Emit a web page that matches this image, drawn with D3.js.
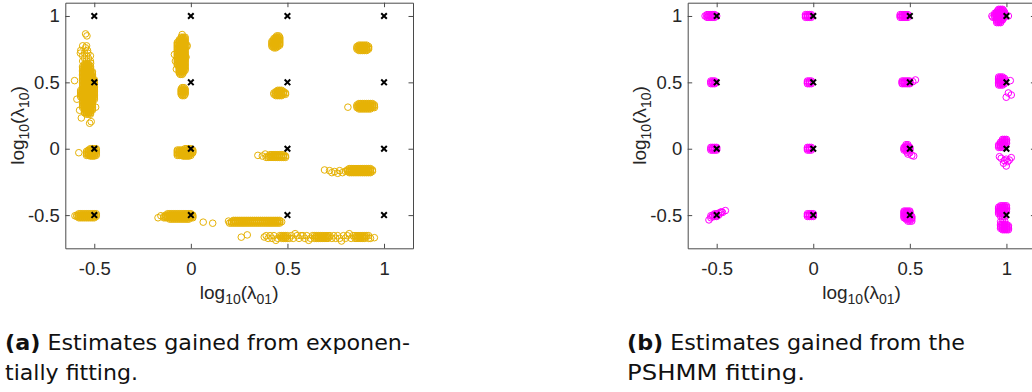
<!DOCTYPE html>
<html>
<head>
<meta charset="utf-8">
<script src="https://cdn.jsdelivr.net/npm/d3@7"></script>
<style>
  body { margin: 0; background: #fff; }
  svg { display: block; }
</style>
</head>
<body>
<svg id="chart" width="1032" height="392"></svg>
<script>
// axis ticks / true parameter grid
const xTicks = [-0.5, 0, 0.5, 1];
const yTicks = [-0.5, 0, 0.5, 1];
const xTickLabels = ['-0.5', '0', '0.5', '1'];
const yTickLabels = ['-0.5', '0', '0.5', '1'];
const trueLam01 = [-0.5, 0, 0.5, 1];
const trueLam10 = [-0.5, 0, 0.5, 1];

// estimates, (a) exponential fitting.
// each row: [log10(lam10) value(s), [log10(lam01) values]]
const expA1 = [
  [0.865, [-0.545]], [0.85, [-0.538]], [0.775, [-0.56, -0.54]], [0.76, [-0.545]],
  [0.74, [-0.57, -0.535]], [0.72, [-0.572, -0.55, -0.533]], [0.70, [-0.56, -0.54, -0.52]],
  [0.68, [-0.55, -0.53]], [0.66, [-0.56, -0.54, -0.52]], [0.644, [-0.519]],
  [[0.64, 0.63], [-0.55, -0.54, -0.53]],
  [[0.62, 0.61], [-0.56, -0.55, -0.54, -0.53, -0.52]],
  [[0.60, 0.59], [-0.56, -0.55, -0.54, -0.53, -0.52]],
  [[0.58, 0.57], [-0.56, -0.55, -0.54, -0.53, -0.52, -0.51]],
  [[0.56, 0.55], [-0.56, -0.55, -0.54, -0.53, -0.52, -0.51]],
  [[0.54, 0.53], [-0.56, -0.55, -0.54, -0.53, -0.52, -0.51]],
  [[0.52, 0.51], [-0.56, -0.55, -0.54, -0.53, -0.52, -0.51, -0.50]],
  [0.513, [-0.602]],
  [[0.50, 0.49], [-0.56, -0.55, -0.54, -0.53, -0.52, -0.51, -0.50]],
  [[0.48, 0.47], [-0.56, -0.55, -0.54, -0.53, -0.52, -0.51, -0.50]],
  [[0.46, 0.45], [-0.56, -0.55, -0.54, -0.53, -0.52, -0.51, -0.50]],
  [[0.44, 0.43], [-0.57, -0.56, -0.55, -0.54, -0.53, -0.52, -0.51, -0.50]],
  [[0.42, 0.41], [-0.57, -0.56, -0.55, -0.54, -0.53, -0.52, -0.51, -0.50]],
  [[0.40, 0.39], [-0.57, -0.56, -0.55, -0.54, -0.53, -0.52, -0.51, -0.50]],
  [[0.38, 0.37], [-0.56, -0.55, -0.54, -0.53, -0.52, -0.51, -0.50]],
  [0.373, [-0.59]],
  [[0.36, 0.35], [-0.56, -0.55, -0.54, -0.53, -0.52, -0.51]],
  [[0.34, 0.33], [-0.56, -0.55, -0.54, -0.53, -0.52, -0.51]],
  [[0.32, 0.31], [-0.56, -0.55, -0.54, -0.53, -0.52, -0.51]],
  [0.313, [-0.493]],
  [[0.30, 0.29], [-0.55, -0.54, -0.53, -0.52, -0.51]],
  [0.29, [-0.576]],
  [[0.28, 0.27], [-0.55, -0.54, -0.53, -0.52]],
  [0.26, [-0.54, -0.53, -0.52]],
  [0.232, [-0.567]], [0.204, [-0.516]], [0.192, [-0.524]]
];
const expA2 = [
  [0.0, [-0.52, -0.51, -0.50, -0.49]],
  [-0.01, [-0.53, -0.52, -0.51, -0.50, -0.49]],
  [[-0.02, -0.03], [-0.54, -0.53, -0.52, -0.51, -0.50, -0.49]],
  [-0.03, [-0.58]],
  [[-0.04, -0.05], [-0.54, -0.53, -0.52, -0.51, -0.50, -0.49]],
  [-0.055, [-0.52, -0.51, -0.50]]
];
const expA3 = [
  [-0.49, [-0.58, -0.57, -0.56, -0.55, -0.54, -0.53, -0.52, -0.51, -0.50, -0.49]],
  [[-0.50, -0.51], [-0.59, -0.58, -0.57, -0.56, -0.55, -0.54, -0.53, -0.52, -0.51, -0.50, -0.49]],
  [-0.505, [-0.60]],
  [-0.52, [-0.58, -0.57, -0.56, -0.55, -0.54, -0.53, -0.52, -0.51, -0.50]]
];
const expB1 = [
  [0.86, [-0.045]],
  [[0.84, 0.83], [-0.05, -0.04, -0.03]],
  [[0.82, 0.81], [-0.06, -0.05, -0.04, -0.03]],
  [[0.80, 0.79], [-0.07, -0.06, -0.05, -0.04, -0.03]],
  [[0.78, 0.77], [-0.07, -0.06, -0.05, -0.04, -0.03, -0.02]],
  [[0.76, 0.75], [-0.07, -0.06, -0.05, -0.04, -0.03]],
  [[0.74, 0.73], [-0.07, -0.06, -0.05, -0.04, -0.03]],
  [[0.72, 0.71], [-0.07, -0.06, -0.05, -0.04, -0.03]],
  [0.71, [-0.085]],
  [[0.70, 0.69], [-0.07, -0.06, -0.05, -0.04, -0.03]],
  [0.69, [-0.025]],
  [[0.68, 0.67], [-0.07, -0.06, -0.05, -0.04, -0.03]],
  [[0.66, 0.65], [-0.07, -0.06, -0.05, -0.04, -0.03]],
  [0.66, [-0.08]],
  [[0.64, 0.63], [-0.07, -0.06, -0.05, -0.04, -0.03]],
  [[0.62, 0.61], [-0.06, -0.05, -0.04, -0.03]],
  [[0.60, 0.59], [-0.06, -0.05, -0.04, -0.03]],
  [0.60, [-0.075]],
  [[0.58, 0.57], [-0.06, -0.05, -0.04]],
  [0.56, [-0.055, -0.045]]
];
const expB2 = [
  [0.46, [-0.045, -0.035]],
  [[0.45, 0.44, 0.43, 0.42, 0.41], [-0.05, -0.04, -0.03]],
  [0.40, [-0.045, -0.035]]
];
const expB3 = [
  [0.0, [-0.03, -0.02, -0.01, 0.0]],
  [[-0.01, -0.02, -0.03], [-0.07, -0.06, -0.05, -0.04, -0.03, -0.02, -0.01, 0.0, 0.01]],
  [[-0.04, -0.05], [-0.07, -0.06, -0.05, -0.04, -0.03, -0.02, -0.01, 0.0]],
  [-0.055, [-0.04, -0.03, -0.02, -0.01]]
];
const expB4 = [
  [-0.49, [-0.12, -0.11, -0.10, -0.09, -0.08, -0.07, -0.06, -0.05, -0.04, -0.03, -0.02, -0.01, 0.0]],
  [-0.50, [-0.13, -0.12, -0.11, -0.10, -0.09, -0.08, -0.07, -0.06, -0.05, -0.04, -0.03, -0.02, -0.01, 0.0, 0.01]],
  [-0.505, [-0.155]],
  [[-0.51, -0.52], [-0.14, -0.13, -0.12, -0.11, -0.10, -0.09, -0.08, -0.07, -0.06, -0.05, -0.04, -0.03, -0.02, -0.01, 0.0, 0.01]],
  [-0.52, [-0.17]],
  [-0.53, [-0.11, -0.10, -0.09, -0.08, -0.07, -0.06, -0.05, -0.04, -0.03, -0.02, -0.01]],
  [-0.553, [0.064]], [-0.561, [0.113]]
];
const expC1 = [
  [0.85, [0.445, 0.455]],
  [0.84, [0.44, 0.45, 0.46]],
  [[0.83, 0.82], [0.43, 0.44, 0.45, 0.46]],
  [[0.81, 0.80], [0.42, 0.43, 0.44, 0.45, 0.46]],
  [[0.79, 0.78], [0.42, 0.43, 0.44, 0.45, 0.46]],
  [0.77, [0.42, 0.43, 0.44, 0.45]],
  [0.76, [0.43, 0.44]]
];
const expC2 = [
  [0.44, [0.45, 0.46, 0.47]],
  [0.43, [0.44, 0.45, 0.46, 0.47, 0.48]],
  [[0.42, 0.41], [0.43, 0.44, 0.45, 0.46, 0.47, 0.48, 0.49]],
  [0.40, [0.44, 0.45, 0.46, 0.47]]
];
const expC3 = [
  [-0.04, [0.385]],
  [-0.045, [0.41, 0.42, 0.43, 0.44, 0.45, 0.46, 0.47, 0.48]],
  [-0.055, [0.40, 0.41, 0.42, 0.43, 0.44, 0.45, 0.46, 0.47, 0.48, 0.49]],
  [-0.05, [0.347]], [-0.055, [0.37]],
  [-0.065, [0.39, 0.40, 0.41, 0.42, 0.43, 0.44, 0.45, 0.46, 0.47, 0.48, 0.49]]
];
const expC4 = [
  [-0.54, [0.22, 0.23, 0.24, 0.25, 0.26, 0.27, 0.28, 0.29, 0.30, 0.31, 0.32, 0.33, 0.34,
           0.35, 0.36, 0.37, 0.38, 0.39, 0.40, 0.41, 0.42, 0.43, 0.44, 0.45, 0.46]],
  [-0.55, [0.21, 0.22, 0.23, 0.24, 0.25, 0.26, 0.27, 0.28, 0.29, 0.30, 0.31, 0.32, 0.33, 0.34,
           0.35, 0.36, 0.37, 0.38, 0.39, 0.40, 0.41, 0.42, 0.43, 0.44, 0.45, 0.46, 0.47]],
  [-0.545, [0.195]],
  [-0.56, [0.20, 0.21, 0.22, 0.23, 0.24, 0.25, 0.26, 0.27, 0.28, 0.29, 0.30, 0.31, 0.32, 0.33, 0.34,
           0.35, 0.36, 0.37, 0.38, 0.39, 0.40, 0.41, 0.42, 0.43, 0.44, 0.45, 0.46]],
  [-0.649, [0.292]], [-0.666, [0.261]]
];
const expD1 = [
  [0.78, [0.87, 0.88, 0.89, 0.90, 0.91]],
  [[0.77, 0.76, 0.75], [0.86, 0.87, 0.88, 0.89, 0.90, 0.91, 0.92]],
  [0.74, [0.87, 0.88, 0.89, 0.90, 0.91]]
];
const expD2 = [
  [0.34, [0.87, 0.88, 0.89, 0.90, 0.91, 0.92, 0.93, 0.94]],
  [[0.33, 0.32, 0.31], [0.86, 0.87, 0.88, 0.89, 0.90, 0.91, 0.92, 0.93, 0.94, 0.95]],
  [0.313, [0.813]],
  [0.30, [0.87, 0.88, 0.89, 0.90, 0.91, 0.92, 0.93]]
];
const expD3 = [
  [-0.15, [0.82, 0.83, 0.84, 0.85, 0.86, 0.87, 0.88, 0.89, 0.90, 0.91, 0.92, 0.93]],
  [-0.16, [0.81, 0.82, 0.83, 0.84, 0.85, 0.86, 0.87, 0.88, 0.89, 0.90, 0.91, 0.92, 0.93, 0.94]],
  [-0.16, [0.692]], [-0.165, [0.718, 0.77]],
  [-0.17, [0.80, 0.81, 0.82, 0.83, 0.84, 0.85, 0.86, 0.87, 0.88, 0.89, 0.90, 0.91, 0.92, 0.93, 0.94]],
  [-0.172, [0.744]],
  [-0.18, [0.73, 0.785, 0.82, 0.83, 0.84, 0.85, 0.86, 0.87, 0.88, 0.89, 0.90, 0.91, 0.92, 0.93]],
  [-0.185, [0.76]]
];
const expD4 = [
  [-0.64, [0.54, 0.82]],
  [-0.655, [0.39, 0.41, 0.43, 0.46, 0.47, 0.48, 0.49, 0.50, 0.52, 0.55, 0.57, 0.58, 0.60, 0.63, 0.64,
            0.65, 0.66, 0.67, 0.68, 0.69, 0.70, 0.71, 0.72, 0.74, 0.76, 0.79, 0.81, 0.84, 0.85, 0.86,
            0.87, 0.88, 0.89, 0.90, 0.91, 0.92]],
  [-0.665, [0.38, 0.465, 0.475, 0.485, 0.495, 0.645, 0.655, 0.665, 0.675, 0.685, 0.695, 0.705, 0.715,
            0.855, 0.865, 0.875, 0.885, 0.895, 0.905]],
  [-0.67, [0.95]],
  [-0.675, [0.40, 0.42, 0.45, 0.47, 0.48, 0.49, 0.50, 0.51, 0.53, 0.56, 0.59, 0.62, 0.64, 0.65, 0.66,
            0.67, 0.68, 0.69, 0.70, 0.71, 0.73, 0.75, 0.77, 0.80, 0.83, 0.85, 0.86, 0.87, 0.88, 0.89,
            0.90, 0.92, 0.93]],
  [-0.69, [0.44, 0.61]], [-0.695, [0.78]]
];

// estimates, (b) PSHMM fitting
const psA = [[[1.01, 1.0, 0.99], [-0.55, -0.54, -0.53, -0.52, -0.51]], [1.0, [-0.56, -0.50]]];
const psB = [[[1.01, 1.0, 0.99], [-0.04, -0.03, -0.02, -0.01]]];
const psC = [[[1.01, 1.0, 0.99], [0.45, 0.46, 0.47, 0.48, 0.49]]];
const psD = [
  [1.05, [0.96, 0.97, 0.98]], [1.04, [0.955, 0.965, 0.975, 0.985]], [1.03, [0.95, 0.96, 0.97, 0.98, 0.99]],
  [[1.02, 1.01, 1.0], [0.94, 0.95, 0.96, 0.97, 0.98, 0.99]], [1.0, [0.925, 1.01]],
  [0.99, [0.93, 0.94, 0.95, 0.96, 0.97, 0.98, 0.99]], [[0.98, 0.97], [0.95, 0.96, 0.97, 0.98]],
  [[0.96, 0.95], [0.95, 0.96, 0.97]]
];
const psE = [[[0.51, 0.50, 0.49], [-0.53, -0.52, -0.51]], [0.50, [-0.505]]];
const psF = [[[0.51, 0.50, 0.49], [-0.03, -0.02, -0.01]]];
const psG = [[0.518, [0.529]], [[0.51, 0.50, 0.49], [0.46, 0.47, 0.48, 0.49, 0.50]], [0.505, [0.515]]];
const psH = [
  [0.54, [0.96, 0.97, 0.98]], [[0.53, 0.52, 0.51, 0.50, 0.49], [0.96, 0.97, 0.98, 0.99]], [0.513, [1.02]],
  [0.48, [0.96, 0.97, 0.98]],
  [0.42, [1.01]], [0.405, [1.025]], [0.388, [0.999]]
];
const psI = [[[0.01, 0.0, -0.01], [-0.53, -0.52, -0.51, -0.50]]];
const psJ = [[[0.01, 0.0, -0.01], [-0.03, -0.02, -0.01]]];
const psK = [
  [[0.03, 0.02], [0.48, 0.49]], [[0.01, 0.0, -0.01], [0.47, 0.48, 0.49, 0.50]],
  [-0.025, [0.485]], [-0.03, [0.50]], [-0.04, [0.49]], [-0.05, [0.51]], [-0.055, [0.52]]
];
const psL = [
  [[0.07, 0.06], [0.98, 0.99, 1.0]], [[0.05, 0.04], [0.97, 0.98, 0.99, 1.0]], [[0.03, 0.02], [0.96, 0.97, 0.98, 0.99]],
  [0.01, [0.96, 0.97, 0.98]],
  [-0.06, [0.964]], [-0.067, [1.025]], [-0.072, [0.973]], [-0.079, [0.999]], [-0.085, [1.015]],
  [-0.09, [0.99]], [-0.097, [1.007]], [-0.109, [0.985]], [-0.13, [0.999]]
];
const psM = [
  [-0.466, [-0.455]], [-0.475, [-0.475]], [-0.48, [-0.48, -0.47]], [-0.485, [-0.49]],
  [-0.49, [-0.51, -0.50]], [-0.50, [-0.52, -0.51, -0.50, -0.49]], [-0.505, [-0.53]],
  [-0.51, [-0.52, -0.51, -0.50]], [-0.52, [-0.53]], [-0.536, [-0.54]]
];
const psN = [[[-0.49, -0.50, -0.51], [-0.03, -0.02, -0.01, 0.0]]];
const psO = [
  [[-0.47, -0.48, -0.49, -0.50], [0.47, 0.48, 0.49, 0.50]],
  [[-0.51, -0.52], [0.47, 0.48, 0.49, 0.50, 0.51]], [-0.53, [0.48, 0.49, 0.50, 0.51]],
  [-0.545, [0.49, 0.50, 0.51]]
];
const psP = [
  [-0.43, [0.97, 0.98, 0.99, 1.0]], [[-0.44, -0.45, -0.46, -0.47], [0.96, 0.97, 0.98, 0.99, 1.0]],
  [[-0.48, -0.49], [0.96, 0.97, 0.98, 0.99]],
  [-0.51, [0.97, 0.98, 0.99]], [-0.53, [0.98]], [-0.54, [0.99]], [-0.55, [0.97]],
  [-0.57, [0.97, 0.98, 0.99, 1.0]], [[-0.58, -0.59, -0.60], [0.97, 0.98, 0.99, 1.0, 1.01]],
  [-0.61, [0.98, 0.99, 1.0, 1.01]]
];

const expClusters = [expA1, expA2, expA3, expB1, expB2, expB3, expB4, expC1, expC2, expC3, expC4, expD1, expD2, expD3, expD4];
const psClusters = [psA, psB, psC, psD, psE, psF, psG, psH, psI, psJ, psK, psL, psM, psN, psO, psP];

const svg = d3.select('#chart');
svg.append('rect').attr('width', 1032).attr('height', 392).attr('fill', '#ffffff');

const panelW = 347.7;
const panelH = 245.6;
const panelTop = 2.7;
const axisFont = 'Liberation Sans, Arial, Helvetica, sans-serif';
const axisColor = '#4a4a4a';

function drawPanel(left, clusters, color) {
  const g = svg.append('g').attr('transform', `translate(${left},${panelTop})`);

  const x = d3.scaleLinear().domain([-0.65, 1.15]).range([0, panelW]);
  const y = d3.scaleLinear().domain([-0.75, 1.1]).range([panelH, 0]);

  const pts = clusters.flatMap(c => c.flatMap(([ys, xs]) =>
    d3.cross(xs, Array.isArray(ys) ? ys : [ys])));

  g.selectAll('.est')
    .data(pts)
    .enter()
    .append('circle')
    .attr('class', 'est')
    .attr('cx', d => x(d[0]))
    .attr('cy', d => y(d[1]))
    .attr('r', 3.3)
    .attr('fill', 'none')
    .attr('stroke', color)
    .attr('stroke-width', 1);

  // true parameter values
  g.selectAll('.truth')
    .data(d3.cross(trueLam01, trueLam10))
    .enter()
    .append('path')
    .attr('class', 'truth')
    .attr('transform', d => `translate(${x(d[0])},${y(d[1])})`)
    .attr('d', 'M-2.8,-2.8L2.8,2.8M-2.8,2.8L2.8,-2.8')
    .attr('stroke', '#000')
    .attr('stroke-width', 2);

  // box with inward ticks on all four sides
  const bottom = g.append('g')
    .attr('transform', `translate(0,${panelH})`)
    .call(d3.axisBottom(x).tickValues(xTicks).tickSize(-4.5).tickSizeOuter(0).tickPadding(14)
      .tickFormat((d, i) => xTickLabels[i]));
  const leftAx = g.append('g')
    .call(d3.axisLeft(y).tickValues(yTicks).tickSize(-4.5).tickSizeOuter(0).tickPadding(5.5)
      .tickFormat((d, i) => yTickLabels[i]));
  const top = g.append('g')
    .call(d3.axisTop(x).tickValues(xTicks).tickSize(-4.5).tickSizeOuter(0).tickFormat(''));
  const right = g.append('g')
    .attr('transform', `translate(${panelW},0)`)
    .call(d3.axisRight(y).tickValues(yTicks).tickSize(-4.5).tickSizeOuter(0).tickFormat(''));

  [bottom, leftAx, top, right].forEach(a => {
    a.selectAll('path, line').attr('stroke', axisColor);
    a.selectAll('text')
      .attr('fill', '#262626')
      .style('font-family', axisFont)
      .style('font-size', '18.5px');
  });

  // x label  log10(lambda01)
  const xl = g.append('text')
    .attr('x', panelW / 2)
    .attr('y', 299 - panelTop)
    .attr('text-anchor', 'middle')
    .attr('fill', '#262626')
    .style('font-family', axisFont)
    .style('font-size', '19px');
  xl.append('tspan').text('log');
  xl.append('tspan').attr('dy', 5).style('font-size', '14px').text('10');
  xl.append('tspan').attr('dy', -5).text('(\u03bb');
  xl.append('tspan').attr('dy', 5).style('font-size', '14px').text('01');
  xl.append('tspan').attr('dy', -5).text(')');

  // y label  log10(lambda10)
  const yl = g.append('text')
    .attr('transform', `translate(${24 - 65.3},${panelH / 2}) rotate(-90)`)
    .attr('text-anchor', 'middle')
    .attr('fill', '#262626')
    .style('font-family', axisFont)
    .style('font-size', '19px');
  yl.append('tspan').text('log');
  yl.append('tspan').attr('dy', 5).style('font-size', '14px').text('10');
  yl.append('tspan').attr('dy', -5).text('(\u03bb');
  yl.append('tspan').attr('dy', 5).style('font-size', '14px').text('10');
  yl.append('tspan').attr('dy', -5).text(')');
}

drawPanel(65.3, expClusters, '#E6B205');
drawPanel(687.7, psClusters, '#FF00FF');

// sub-captions
const capFont = 'DejaVu Sans, sans-serif';
function caption(xPos, tag, line1, line2, w1, w2) {
  const t1 = svg.append('text')
    .attr('x', xPos).attr('y', 350)
    .attr('fill', '#111')
    .attr('textLength', w1)
    .attr('lengthAdjust', 'spacingAndGlyphs')
    .style('font-family', capFont)
    .style('font-size', '21.5px');
  t1.append('tspan').style('font-weight', 'bold').text(tag);
  t1.append('tspan').text(' ' + line1);
  svg.append('text')
    .attr('x', xPos).attr('y', 380)
    .attr('fill', '#111')
    .attr('textLength', w2)
    .attr('lengthAdjust', 'spacingAndGlyphs')
    .style('font-family', capFont)
    .style('font-size', '21.5px')
    .text(line2);
}
caption(5, '(a)', 'Estimates gained from exponen-', 'tially fitting.', 405, 133);
caption(627, '(b)', 'Estimates gained from the', 'PSHMM fitting.', 338, 178);
</script>
</body>
</html>
